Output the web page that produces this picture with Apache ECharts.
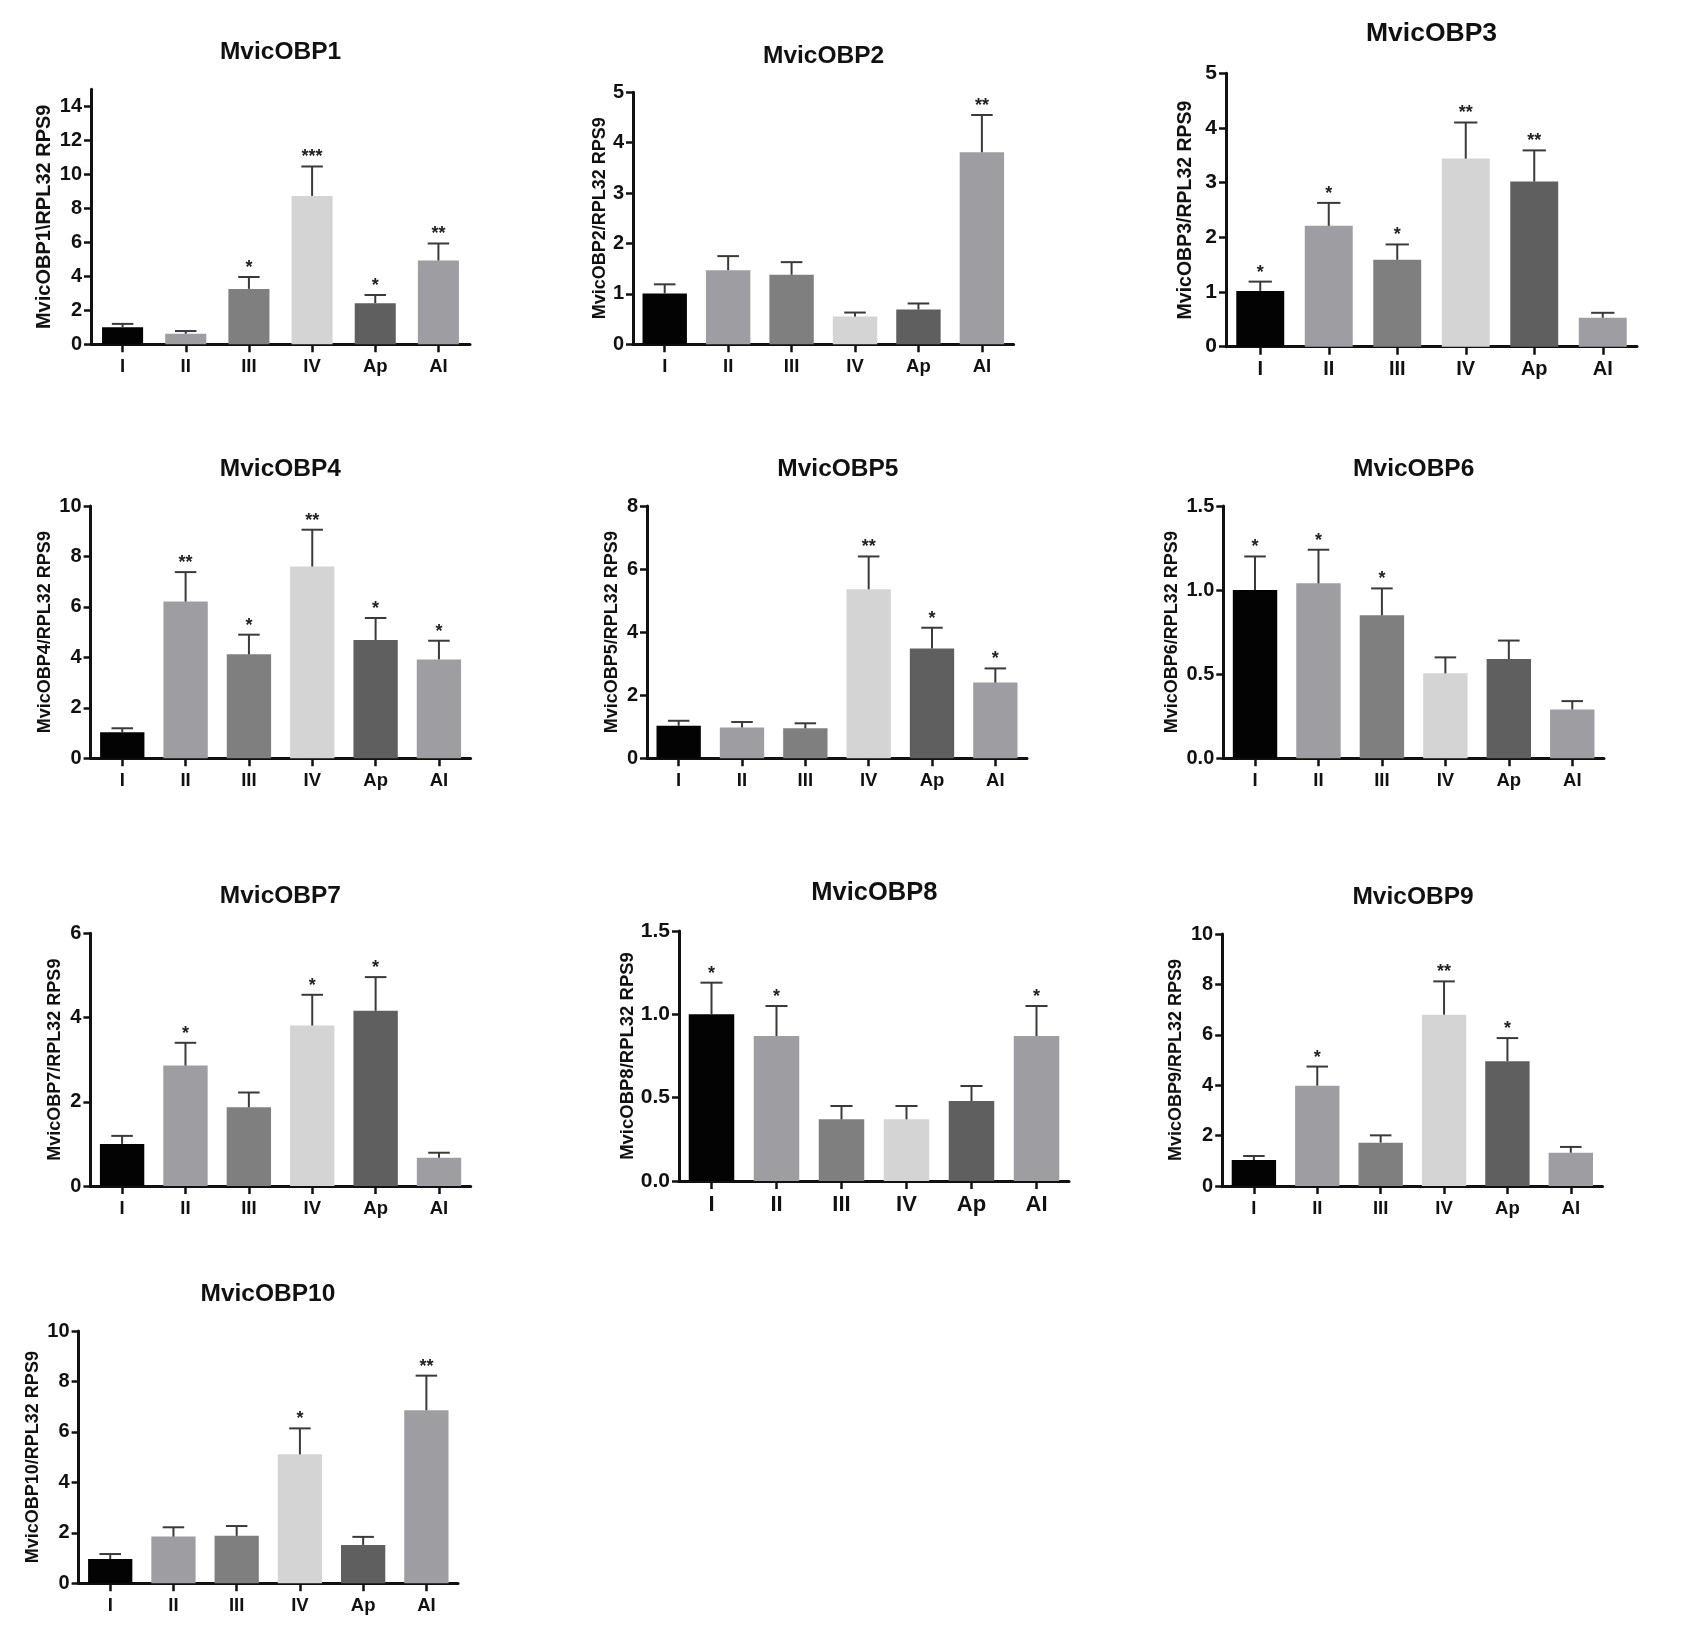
<!DOCTYPE html>
<html><head><meta charset="utf-8">
<script src="https://cdn.jsdelivr.net/npm/echarts@6/dist/echarts.min.js"></script>
<style>html,body{margin:0;padding:0;background:#fff}#c{width:1703px;height:1641px}</style>
</head><body><div id="c"></div>
<script>
// ---------- data ----------
const categories = ['I', 'II', 'III', 'IV', 'Ap', 'AI'];
const geneTitles = ['MvicOBP1','MvicOBP2','MvicOBP3','MvicOBP4','MvicOBP5','MvicOBP6','MvicOBP7','MvicOBP8','MvicOBP9','MvicOBP10'];
const yAxisNames = ['MvicOBP1\\RPL32 RPS9','MvicOBP2/RPL32 RPS9','MvicOBP3/RPL32 RPS9','MvicOBP4/RPL32 RPS9','MvicOBP5/RPL32 RPS9','MvicOBP6/RPL32 RPS9','MvicOBP7/RPL32 RPS9','MvicOBP8/RPL32 RPS9','MvicOBP9/RPL32 RPS9','MvicOBP10/RPL32 RPS9'];

const obp1Mean = [1.0, 0.62, 3.26, 8.73, 2.42, 4.93];
const obp1Sem  = [0.2, 0.16, 0.7, 1.73, 0.48, 1.0];
const obp1Sig  = ['', '', '*', '***', '*', '**'];

const obp2Mean = [1.01, 1.47, 1.38, 0.55, 0.69, 3.81];
const obp2Sem  = [0.18, 0.28, 0.25, 0.08, 0.12, 0.74];
const obp2Sig  = ['', '', '', '', '', '**'];

const obp3Mean = [1.02, 2.21, 1.59, 3.44, 3.02, 0.53];
const obp3Sem  = [0.17, 0.42, 0.28, 0.66, 0.57, 0.09];
const obp3Sig  = ['*', '*', '*', '**', '**', ''];

const obp4Mean = [1.03, 6.21, 4.12, 7.6, 4.69, 3.92];
const obp4Sem  = [0.16, 1.17, 0.78, 1.46, 0.87, 0.74];
const obp4Sig  = ['', '**', '*', '**', '*', '*'];

const obp5Mean = [1.03, 0.98, 0.95, 5.36, 3.48, 2.4];
const obp5Sem  = [0.16, 0.17, 0.16, 1.04, 0.66, 0.45];
const obp5Sig  = ['', '', '', '**', '*', '*'];

const obp6Mean = [1.0, 1.04, 0.85, 0.505, 0.59, 0.29];
const obp6Sem  = [0.2, 0.2, 0.16, 0.095, 0.11, 0.05];
const obp6Sig  = ['*', '*', '*', '', '', ''];

const obp7Mean = [1.0, 2.86, 1.87, 3.81, 4.16, 0.67];
const obp7Sem  = [0.19, 0.54, 0.35, 0.73, 0.8, 0.12];
const obp7Sig  = ['', '*', '', '*', '*', ''];

const obp8Mean = [1.0, 0.87, 0.37, 0.37, 0.48, 0.87];
const obp8Sem  = [0.19, 0.18, 0.08, 0.08, 0.09, 0.18];
const obp8Sig  = ['*', '*', '', '', '', '*'];

const obp9Mean = [1.03, 3.98, 1.72, 6.8, 4.95, 1.32];
const obp9Sem  = [0.16, 0.76, 0.29, 1.32, 0.92, 0.23];
const obp9Sig  = ['', '*', '', '**', '*', ''];

const obp10Mean = [0.96, 1.85, 1.88, 5.11, 1.52, 6.86];
const obp10Sem  = [0.2, 0.37, 0.39, 1.03, 0.32, 1.37];
const obp10Sig  = ['', '', '', '*', '', '**'];

// y-axis scale and tick labels
const yMax      = [15, 5, 5, 10, 8, 1.5, 6, 1.5, 10, 10];
const yStep     = [2, 1, 1, 2, 2, 0.5, 2, 0.5, 2, 2];
const yLabelTop = [14, 5, 5, 10, 8, 1.5, 6, 1.5, 10, 10];
const yDecimals = [0, 0, 0, 0, 0, 1, 0, 1, 0, 0];

// ---------- layout / style ----------
const axisX  = [91, 633, 1226, 90.6, 647, 1223.3, 90.4, 679, 1222.2, 78.6];
const rightX = [470, 1013.6, 1637, 470.6, 1027, 1604, 470.7, 1069, 1602.5, 458];
const topY   = [89.3, 92.3, 73.3, 506, 506, 506, 933.3, 931, 934, 1331];
const zeroY  = [344.3, 344.3, 346.7, 758.3, 758.3, 758.3, 1186, 1181, 1186, 1583.3];
const titleCX = [280.5, 823.6, 1431.5, 280.4, 837.9, 1413.7, 280.4, 874.3, 1413, 267.9];
const titleCY = [51, 55, 32.8, 468.3, 468.3, 468.3, 895, 891.7, 896, 1293.3];
const titleSize = [24.5, 24.5, 26.5, 24.5, 24.5, 24.5, 24.5, 25.5, 24.5, 24.5];
const tickSize  = [20, 20, 21, 20, 20, 20, 20, 21, 20, 20];
const catSize   = [18.5, 18.5, 20, 18.5, 18.5, 18.5, 18.5, 22, 18.5, 18.5];
const nameSize  = [20, 18, 19.5, 18, 18, 18, 18, 18.5, 18, 18];
const nameGaps  = [37, 24, 30, 37, 26, 42, 26, 42, 37, 37];
const barWidths = ['65%', '70%', '70%', '70%', '70%', '70%', '70%', '70%', '70%', '70%'];
const barColors = ['#030303', '#9e9ea2', '#7f7f7f', '#d4d4d4', '#5f5f5f', '#9e9ea2'];
const FONT = 'Liberation Sans, Arial, Helvetica, sans-serif';
const INK = '#111';

const means = [obp1Mean, obp2Mean, obp3Mean, obp4Mean, obp5Mean, obp6Mean, obp7Mean, obp8Mean, obp9Mean, obp10Mean];
const sems  = [obp1Sem, obp2Sem, obp3Sem, obp4Sem, obp5Sem, obp6Sem, obp7Sem, obp8Sem, obp9Sem, obp10Sem];
const sigs  = [obp1Sig, obp2Sig, obp3Sig, obp4Sig, obp5Sig, obp6Sig, obp7Sig, obp8Sig, obp9Sig, obp10Sig];

const grid = [], xAxis = [], yAxis = [], series = [], graphic = [];

for (let i = 0; i < 10; i++) {
  grid.push({
    left: axisX[i], top: topY[i],
    width: rightX[i] - axisX[i], height: zeroY[i] - topY[i],
    containLabel: false, outerBoundsMode: 'none'
  });
  xAxis.push({
    type: 'category', gridIndex: i, data: categories,
    axisLine: { show: true, lineStyle: { color: INK, width: 3 } },
    axisTick: { show: true, alignWithLabel: true, length: 8, lineStyle: { color: INK, width: 2.5 } },
    axisLabel: { margin: 13, color: INK, fontSize: catSize[i], fontWeight: 'bold', fontFamily: FONT, interval: 0 },
    splitLine: { show: false }
  });
  const vals = [];
  for (let v = 0; v <= yLabelTop[i] + 1e-9; v += yStep[i]) vals.push(+v.toFixed(3));
  const dec = yDecimals[i];
  yAxis.push({
    type: 'value', gridIndex: i, min: 0, max: yMax[i], interval: yStep[i],
    axisLine: { show: true, lineStyle: { color: INK, width: 3 } },
    axisTick: { show: true, length: 7, lineStyle: { color: INK, width: 2.5 }, customValues: vals },
    axisLabel: {
      margin: 9, color: INK, fontSize: tickSize[i], fontWeight: 'bold', fontFamily: FONT,
      customValues: vals, formatter: v => Number(v).toFixed(dec)
    },
    splitLine: { show: false },
    name: yAxisNames[i], nameLocation: 'middle', nameGap: nameGaps[i], nameMoveOverlap: false,
    nameTextStyle: { color: INK, fontSize: nameSize[i], fontWeight: 'bold', fontFamily: FONT }
  });
  series.push({
    type: 'bar', xAxisIndex: i, yAxisIndex: i, barWidth: barWidths[i], silent: true,
    data: means[i].map((v, j) => ({ value: v, itemStyle: { color: barColors[j] } }))
  });
  const sigArr = sigs[i];
  series.push({
    type: 'custom', xAxisIndex: i, yAxisIndex: i, z: 5, silent: true,
    data: means[i].map((m, j) => [j, m, m + sems[i][j]]),
    renderItem: function (params, api) {
      const x = api.value(0), m = api.value(1), t = api.value(2);
      const p0 = api.coord([x, m]);
      const p1 = api.coord([x, t]);
      const band = api.size([1, 0])[0];
      const half = band * 0.17;
      const st = { stroke: '#3a3a3a', lineWidth: 2 };
      const children = [
        { type: 'line', shape: { x1: p0[0], y1: p0[1], x2: p1[0], y2: p1[1] }, style: st },
        { type: 'line', shape: { x1: p1[0] - half, y1: p1[1], x2: p1[0] + half, y2: p1[1] }, style: st }
      ];
      const s = sigArr[params.dataIndex];
      if (s) {
        children.push({
          type: 'text',
          style: { text: s, x: p1[0], y: p1[1] - 9, align: 'center', verticalAlign: 'middle',
                   font: 'bold 18px ' + FONT, fill: '#222' }
        });
      }
      return { type: 'group', children: children };
    }
  });
  graphic.push({
    type: 'text', x: titleCX[i], y: titleCY[i] + 1,
    style: { text: geneTitles[i], align: 'center', verticalAlign: 'middle',
             font: 'bold ' + titleSize[i] + 'px ' + FONT, fill: INK }
  });
}

const chart = echarts.init(document.getElementById('c'), null, { renderer: 'canvas' });
chart.setOption({
  backgroundColor: '#ffffff',
  animation: false,
  grid, xAxis, yAxis, series, graphic
});
</script>
</body></html>
